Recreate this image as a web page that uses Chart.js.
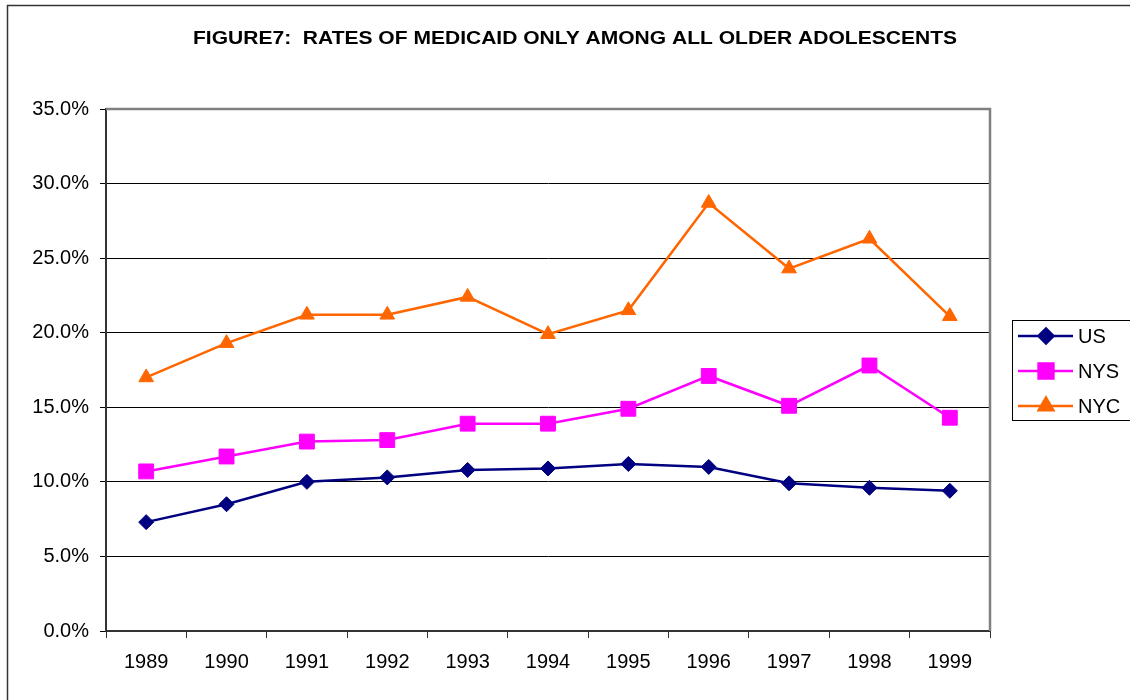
<!DOCTYPE html>
<html>
<head>
<meta charset="utf-8">
<script src="https://cdn.jsdelivr.net/npm/chart.js@4.4.0/dist/chart.umd.min.js"></script>
<style>
  html, body { margin: 0; padding: 0; background: #fff; }
  #wrap { width: 1130px; height: 700px; position: relative; }
</style>
</head>
<body>
<div id="wrap"><canvas id="myChart" width="1130" height="700"></canvas></div>
<script>
// Data (percent)
const chartTitle = "FIGURE7:  RATES OF MEDICAID ONLY AMONG ALL OLDER ADOLESCENTS";
const years = ['1989', '1990', '1991', '1992', '1993', '1994', '1995', '1996', '1997', '1998', '1999'];
const usRates  = [7.3, 8.5, 10.0, 10.3, 10.8, 10.9, 11.2, 11.0, 9.9, 9.6, 9.4];
const nysRates = [10.7, 11.7, 12.7, 12.8, 13.9, 13.9, 14.9, 17.1, 15.1, 17.8, 14.3];
const nycRates = [17.0, 19.3, 21.2, 21.2, 22.4, 19.9, 21.5, 28.7, 24.3, 26.3, 21.1];
const yTicks = [0, 5, 10, 15, 20, 25, 30, 35];

const FONT = '"Liberation Sans", Arial, sans-serif';

// white page, outer frame, title, plot border and boxed legend
const excelLook = {
    id: 'excelLook',
    beforeDraw: (chart) => {
        const { ctx } = chart;
        ctx.save();
        ctx.fillStyle = '#fff';
        ctx.fillRect(0, 0, chart.width, chart.height);
        ctx.restore();
    },
    afterDraw: (chart) => {
        const { ctx, chartArea } = chart;
        ctx.save();
        // outer frame (runs off the right and bottom)
        ctx.strokeStyle = '#333';
        ctx.lineWidth = 1.5;
        ctx.strokeRect(7.5, 5.5, 1140, 720);

        // title, stretched a bit wider like the original
        ctx.fillStyle = '#000';
        ctx.font = 'bold 19px ' + FONT;
        ctx.textAlign = 'center';
        ctx.textBaseline = 'middle';
        const tw = ctx.measureText(chartTitle).width;
        ctx.save();
        ctx.translate(575, 39);
        ctx.scale(764 / tw, 1);
        ctx.fillText(chartTitle, 0, 0);
        ctx.restore();

        // grey top and right edges of the plot area
        ctx.strokeStyle = '#808080';
        ctx.lineWidth = 2.5;
        ctx.beginPath();
        ctx.moveTo(chartArea.left, chartArea.top);
        ctx.lineTo(chartArea.right, chartArea.top);
        ctx.lineTo(chartArea.right, chartArea.bottom);
        ctx.stroke();

        // legend
        const lx = 1012.5, ly = 320.5;
        ctx.strokeStyle = '#000';
        ctx.lineWidth = 1;
        ctx.strokeRect(lx, ly, 130, 100);
        const rowsY = [336, 371, 406];
        chart.data.datasets.forEach((ds, i) => {
            const y = rowsY[i];
            ctx.strokeStyle = ds.borderColor;
            ctx.lineWidth = ds.borderWidth;
            ctx.beginPath();
            ctx.moveTo(1018, y);
            ctx.lineTo(1073, y);
            ctx.stroke();
            ctx.fillStyle = ds.pointBackgroundColor;
            ctx.strokeStyle = ds.borderColor;
            Chart.helpers.drawPoint(ctx, {
                pointStyle: ds.pointStyle,
                radius: ds.pointRadius,
                rotation: 0,
                borderWidth: 1
            }, 1046, y);
            ctx.fillStyle = '#000';
            ctx.font = '20px ' + FONT;
            ctx.textAlign = 'left';
            ctx.textBaseline = 'middle';
            ctx.fillText(ds.label, 1078, y + 1);
        });
        ctx.restore();
    }
};

const ctx = document.getElementById('myChart').getContext('2d');
const myChart = new Chart(ctx, {
    type: 'line',
    data: {
        labels: years,
        datasets: [
            {
                label: 'US',
                data: usRates,
                borderColor: '#000080',
                backgroundColor: '#000080',
                pointBackgroundColor: '#000080',
                borderWidth: 2.5,
                pointStyle: 'rectRot',
                pointRadius: 7.5,
                pointBorderWidth: 1,
                tension: 0
            },
            {
                label: 'NYS',
                data: nysRates,
                borderColor: '#FF00FF',
                backgroundColor: '#FF00FF',
                pointBackgroundColor: '#FF00FF',
                borderWidth: 2.5,
                pointStyle: 'rect',
                pointRadius: 10.5,
                pointBorderWidth: 1,
                tension: 0
            },
            {
                label: 'NYC',
                data: nycRates,
                borderColor: '#FF6600',
                backgroundColor: '#FF6600',
                pointBackgroundColor: '#FF6600',
                borderWidth: 2.5,
                pointStyle: 'triangle',
                pointRadius: 8.5,
                pointBorderWidth: 1,
                tension: 0
            }
        ]
    },
    options: {
        responsive: false,
        animation: false,
        layout: { padding: { left: 0, right: 140, top: 109, bottom: 0 } },
        plugins: {
            legend: { display: false },
            title: { display: false },
            tooltip: { enabled: false }
        },
        scales: {
            x: {
                type: 'category',
                offset: true,
                grid: {
                    offset: true,
                    drawOnChartArea: false,
                    drawTicks: true,
                    tickLength: 7,
                    color: '#333'
                },
                border: { color: '#333', width: 2 },
                ticks: { color: '#000', font: { family: FONT, size: 20 }, padding: 12, maxRotation: 0 },
                afterFit: (scale) => { scale.height = 69; }
            },
            y: {
                min: 0,
                max: 35,
                afterBuildTicks: (scale) => { scale.ticks = yTicks.map(v => ({ value: v })); },
                grid: { color: '#000', lineWidth: 1, tickLength: 6 },
                border: { color: '#333', width: 2 },
                ticks: {
                    color: '#000',
                    font: { family: FONT, size: 20 },
                    padding: 11,
                    callback: (v) => v.toFixed(1) + '%'
                },
                afterFit: (scale) => { scale.width = 106; }
            }
        }
    },
    plugins: [excelLook]
});
</script>
</body>
</html>
